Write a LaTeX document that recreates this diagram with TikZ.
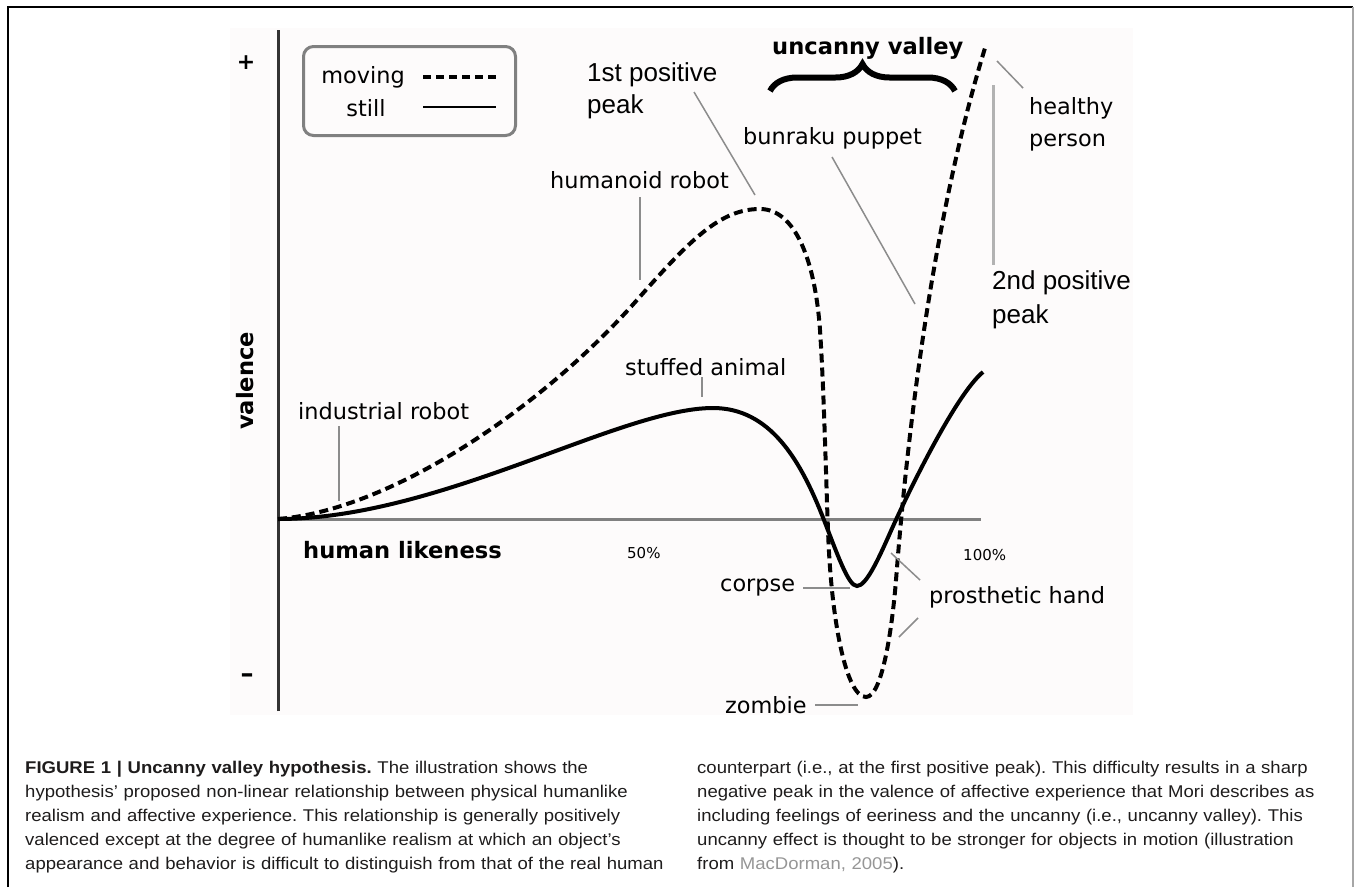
\documentclass[tikz,border=0pt]{standalone}
\usepackage{fontspec}
\setmainfont{DejaVu Sans}
\newfontfamily\arialfont{Liberation Sans}
\newfontfamily\capfont[FakeStretch=1.09]{Liberation Sans}
\usetikzlibrary{decorations.pathreplacing}
\definecolor{plotbg}{RGB}{253,251,251}
\definecolor{leadgray}{RGB}{140,140,140}
\definecolor{axisgray}{RGB}{128,128,128}
\definecolor{capgray}{RGB}{150,150,150}
\definecolor{captext}{RGB}{30,28,28}
\tikzset{
  lbl/.style={font=\fontsize{22.4}{32}\selectfont, inner sep=0pt, anchor=west},
  boldlbl/.style={font=\bfseries\fontsize{22.6}{26}\selectfont, inner sep=0pt},
  peaklbl/.style={font=\arialfont\fontsize{26}{32}\selectfont, inner sep=0pt, anchor=west, align=left},
  ticklbl/.style={font=\fontsize{15}{18}\selectfont, inner sep=0pt, anchor=west},
  leader/.style={leadgray, line width=1.5pt},
  moving/.style={line width=4pt, dash pattern=on 9pt off 5pt},
  still/.style={line width=4pt},
  captxt/.style={font=\capfont\fontsize{17}{24.2}\selectfont\frenchspacing, text=captext,
    inner sep=0pt, anchor=base west, align=left, text width=700pt}
}
\begin{document}
\begin{tikzpicture}[x=1pt,y=-1pt]
            \useasboundingbox (0,0) rectangle (1354,887);
            % Frame and plot area
            \draw[line width=1.5pt] (8,887) -- (8,7) -- (1353,7);
            \draw[line width=1.5pt, gray!70] (1353,7) -- (1353,887);
            \fill[plotbg] (230,28) rectangle (1133,715);

            % Axes
            \coordinate (O) at (278,519);
            \coordinate (xend) at (981,519);
            \coordinate (ytop) at (278,30);
            \coordinate (ybot) at (278,711);
            \draw[axisgray, line width=3pt] (O) -- (xend);
            \draw[black!80, line width=3pt] (ybot) -- (ytop);
            \node[boldlbl, font=\bfseries\fontsize{22}{22}\selectfont] (plus) at (246,63) {+};
            \node[boldlbl, font=\bfseries\fontsize{26}{26}\selectfont] (minus) at (247,678) {–};
            \node[boldlbl, rotate=90] (valence) at (245,381) {valence};
            \node[boldlbl, anchor=west] (likeness) at (303,550) {human likeness};
            \node[ticklbl] (half) at (627,553) {50\%};
            \node[ticklbl] (full) at (963,555) {100\%};

            % Still curve
            \draw[still] (O) .. controls (440,519) and (620,408) .. (713,408)
              .. controls (770,408) and (800,460) .. (822,515)
              .. controls (837,553) and (848,586) .. (857,586)
              .. controls (866,586) and (878,560) .. (890,533)
              .. controls (905,499) and (955,395) .. (983,372);

            % Moving curve
            \draw[moving] (O) .. controls (390,510) and (540,410) .. (637,300)
              .. controls (690,240) and (720,209) .. (760,209)
              .. controls (795,209) and (815,260) .. (820,330)
              .. controls (824,390) and (826,480) .. (828,530)
              .. controls (831,620) and (846,697) .. (866,697)
              .. controls (882,697) and (892,630) .. (896,580)
              .. controls (900,530) and (920,260) .. (985,48);

            % Legend
            \node[draw=axisgray, line width=3pt, rounded corners=10pt, minimum width=212pt,
              minimum height=89pt, inner sep=0pt] (legend) at (409.5,91) {};
            \node[lbl, anchor=center] (mov) at (363,77) {moving};
            \node[lbl, anchor=center] (sti) at (366,108) {still};
            \coordinate (movA) at (423,77);
            \coordinate (movB) at (496,77);
            \coordinate (stiA) at (423,107);
            \coordinate (stiB) at (496,107);
            \draw[line width=4pt, dash pattern=on 8pt off 5pt] (movA) -- (movB);
            \draw[line width=1.5pt] (stiA) -- (stiB);

            % Uncanny valley
            \node[boldlbl, anchor=west] (uv) at (772,48) {uncanny valley};
            \coordinate (braceL) at (770,91);
            \coordinate (braceR) at (955,91);
            \draw[line width=6pt, decorate, decoration={brace, amplitude=27pt}] (braceL) -- (braceR);

            % Labels on the still curve
            \node[lbl] (ind) at (298,411) {industrial robot};
            \coordinate (indA) at (339,426);
            \coordinate (indB) at (339,501);
            \draw[leader] (indA) -- (indB);

            \node[lbl] (stuff) at (625,367) {stuffed animal};
            \coordinate (stuffA) at (702,377);
            \coordinate (stuffB) at (702,397);
            \draw[leader] (stuffA) -- (stuffB);

            \node[lbl] (corpse) at (720,588) {corpse};
            \coordinate (corpseA) at (803,588);
            \coordinate (corpseB) at (850,588);
            \draw[leader] (corpseA) -- (corpseB);

            % Labels on the moving curve
            \node[lbl] (hum) at (550,180) {humanoid robot};
            \coordinate (humA) at (640,197);
            \coordinate (humB) at (640,280);
            \draw[leader] (humA) -- (humB);

            \node[peaklbl] (peak1) at (587,91) {1st positive\\peak};
            \coordinate (peak1A) at (694,92);
            \coordinate (peak1B) at (755,195);
            \draw[leader] (peak1A) -- (peak1B);

            \node[lbl] (bun) at (743,138) {bunraku puppet};
            \coordinate (bunA) at (832,157);
            \coordinate (bunB) at (915,304);
            \draw[leader] (bunA) -- (bunB);

            \node[lbl, align=left] (healthy) at (1029,124) {healthy\\person};
            \coordinate (healthyA) at (997,61);
            \coordinate (healthyB) at (1023,88);
            \draw[leader] (healthyA) -- (healthyB);

            \node[peaklbl, font=\arialfont\fontsize{26}{34}\selectfont] (peak2) at (992,300) {2nd positive\\peak};
            \coordinate (peak2A) at (993,85);
            \coordinate (peak2B) at (993,265);
            \draw[leader, line width=3pt, gray!60] (peak2A) -- (peak2B);

            \node[lbl] (pros) at (929,597) {prosthetic hand};
            \coordinate (prosA) at (920,580);
            \coordinate (prosB) at (891,553);
            \coordinate (prosC) at (918,618);
            \coordinate (prosD) at (899,637);
            \draw[leader] (prosA) -- (prosB);
            \draw[leader] (prosC) -- (prosD);

            \node[lbl] (zombie) at (725,705) {zombie};
            \coordinate (zombieA) at (815,705);
            \coordinate (zombieB) at (858,705);
            \draw[leader] (zombieA) -- (zombieB);

            % Caption
            \node[captxt] (capL) at (25,773) {\textbf{FIGURE 1 | Uncanny valley hypothesis.} The illustration shows the\\
              hypothesis’ proposed non-linear relationship between physical humanlike\\
              realism and affective experience. This relationship is generally positively\\
              valenced except at the degree of humanlike realism at which an object’s\\
              appearance and behavior is difficult to distinguish from that of the real human};
            \node[captxt] (capR) at (697,773) {counterpart (i.e., at the first positive peak). This difficulty results in a sharp\\
              negative peak in the valence of affective experience that Mori describes as\\
              including feelings of eeriness and the uncanny (i.e., uncanny valley). This\\
              uncanny effect is thought to be stronger for objects in motion (illustration\\
              from {\color{capgray}MacDorman, 2005}).};
        \end{tikzpicture}
\end{document}
